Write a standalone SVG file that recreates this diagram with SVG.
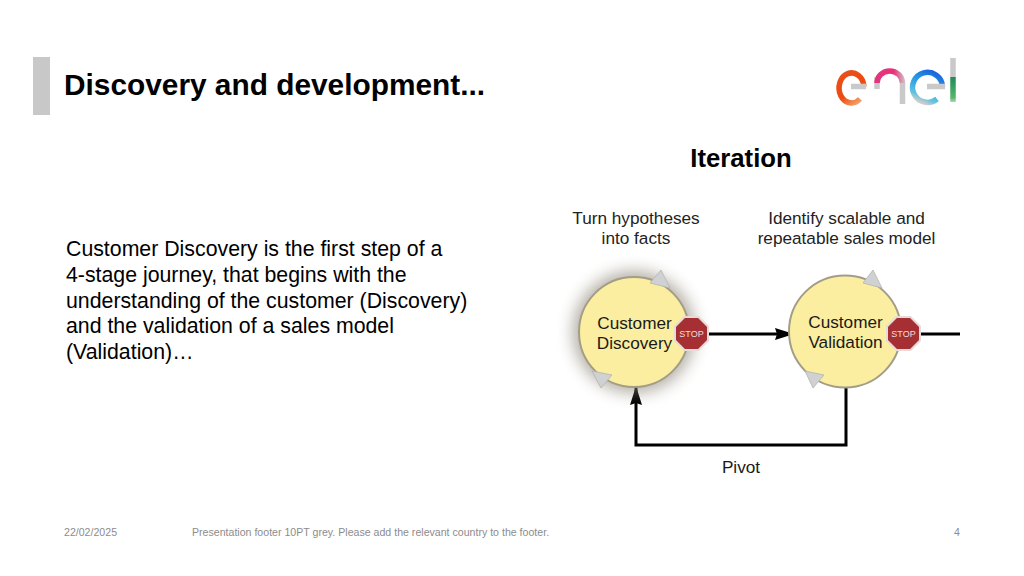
<svg xmlns="http://www.w3.org/2000/svg" width="1024" height="576" viewBox="0 0 1024 576">
<style>
text{font-family:"Liberation Sans",Arial,sans-serif;fill:#000}
.body{font-size:21.3px}
.cap{font-size:17.2px;fill:#222;text-anchor:middle}
.lab{font-size:17.2px;fill:#1a1a1a;text-anchor:middle}
.foot{font-size:10.6px;fill:#8c8c8c}
.stoptext{font-size:9px;fill:#f3dede;text-anchor:middle}
.bubble{fill:#fbeea0;stroke:#a39d88;stroke-width:2}
.tri{fill:#d0d1d2;stroke:#b4b4b0;stroke-width:.8}
.stop{fill:#a52f33;stroke:#e4dcd8;stroke-width:2}
.conn{fill:none;stroke:#000;stroke-width:3}
.logo{fill:none;stroke-width:5.500}
</style>
<defs>
<marker id="arr" markerUnits="userSpaceOnUse" markerWidth="19" markerHeight="13" refX="19" refY="6.500" orient="auto"><path d="M0 0.500L19 6.500L0 12.500L2 6.500Z" fill="#000"/></marker>
<filter id="blur" x="-30%" y="-30%" width="160%" height="160%"><feGaussianBlur stdDeviation="8"/></filter>
<linearGradient id="e1" gradientUnits="userSpaceOnUse" x1="840" y1="70" x2="866" y2="104"><stop offset="0" stop-color="#e8501c"/><stop offset=".55" stop-color="#ee4a10"/><stop offset=".85" stop-color="#f29a60"/><stop offset="1" stop-color="#cccccc"/></linearGradient>
<linearGradient id="n1" gradientUnits="userSpaceOnUse" x1="877" y1="0" x2="905" y2="0"><stop offset="0" stop-color="#e5347e"/><stop offset=".6" stop-color="#e8307a"/><stop offset="1" stop-color="#cfc4c8"/></linearGradient>
<linearGradient id="e2" gradientUnits="userSpaceOnUse" x1="945" y1="72" x2="930" y2="106"><stop offset="0" stop-color="#1556d8"/><stop offset=".5" stop-color="#2b9ee8"/><stop offset=".85" stop-color="#62c3de"/><stop offset="1" stop-color="#cccccc"/></linearGradient>
<linearGradient id="l1" gradientUnits="userSpaceOnUse" x1="0" y1="77" x2="0" y2="103"><stop offset="0" stop-color="#1f8a58"/><stop offset=".8" stop-color="#55b86a"/><stop offset="1" stop-color="#c5dcc8"/></linearGradient>
</defs>

<g id="title-block">
<rect x="33" y="57" width="17" height="58" fill="#c8c8c8"/>
<text x="64" y="95" font-size="29.400" font-weight="700" textLength="421" lengthAdjust="spacingAndGlyphs">Discovery and development...</text>
</g>

<g id="logo">
<path class="logo" stroke="url(#e1)" d="M864 86.500A12.500 15 0 1 0 860 99"/>
<path class="logo" stroke="#c9c9c9" d="M851 86.500H866"/>
<path class="logo" stroke="#c9c9c9" d="M877 77V89"/>
<path class="logo" stroke="#c9c9c9" d="M902.500 83V104"/>
<path class="logo" stroke="url(#n1)" d="M877 83A12.750 12 0 0 1 902.500 83"/>
<path class="logo" stroke="url(#e2)" d="M942.500 86.500A15 15 0 1 0 937 99"/>
<path class="logo" stroke="#c9c9c9" d="M927 86.500H945"/>
<path class="logo" stroke="#c9c9c9" d="M953 58V77"/>
<path class="logo" stroke="url(#l1)" d="M953 77V102"/>
</g>

<g id="intro-text">
<text class="body" x="66" y="256">Customer Discovery is the first step of a</text>
<text class="body" x="66" y="282">4-stage journey, that begins with the</text>
<text class="body" x="66" y="307.500">understanding of the customer (Discovery)</text>
<text class="body" x="66" y="333">and the validation of a sales model</text>
<text class="body" x="66" y="358.500">(Validation)…</text>
</g>

<g id="iteration-heading">
<text x="741" y="167" font-size="25.700" font-weight="700" text-anchor="middle">Iteration</text>
</g>

<g id="caption-facts">
<text class="cap" x="636" y="224">Turn hypotheses</text>
<text class="cap" x="636" y="244">into facts</text>
</g>
<g id="caption-sales">
<text class="cap" x="846.500" y="224">Identify scalable and</text>
<text class="cap" x="846.500" y="244">repeatable sales model</text>
</g>

<g id="connectors">
<path class="conn" d="M708 334H794" marker-end="url(#arr)"/>
<path class="conn" d="M920 334H960"/>
<path class="conn" d="M846 388V445H636V386" marker-end="url(#arr)"/>
</g>

<g id="customer-discovery">
<circle cx="634" cy="332" r="61" fill="#8a8272" opacity=".65" filter="url(#blur)"/>
<circle class="bubble" cx="634" cy="332" r="55"/>
<polygon class="tri" points="661,270 650,283 670,288"/>
<polygon class="tri" points="592,371 612,375 601,388"/>
<text class="lab" x="634.500" y="329">Customer</text>
<text class="lab" x="634.500" y="349">Discovery</text>
<polygon class="stop" points="684.500,317 698.500,317 708,326.500 708,340.500 698.500,350 684.500,350 675,340.500 675,326.500"/>
<text class="stoptext" x="691.500" y="336.500">STOP</text>
</g>

<g id="customer-validation">
<circle class="bubble" cx="845" cy="331.500" r="56"/>
<polygon class="tri" points="873,270 863,283 882,288"/>
<polygon class="tri" points="805,371 824,375 813,388"/>
<text class="lab" x="845.500" y="328">Customer</text>
<text class="lab" x="845.500" y="348">Validation</text>
<polygon class="stop" points="896.500,317 910.500,317 920,326.500 920,340.500 910.500,350 896.500,350 887,340.500 887,326.500"/>
<text class="stoptext" x="903.500" y="336.500">STOP</text>
</g>

<g id="pivot-label">
<text class="lab" x="741" y="473">Pivot</text>
</g>

<g id="footer">
<text class="foot" x="64" y="536">22/02/2025</text>
<text class="foot" x="192" y="536">Presentation footer 10PT grey. Please add the relevant country to the footer.</text>
<text class="foot" x="954" y="536">4</text>
</g>
</svg>
